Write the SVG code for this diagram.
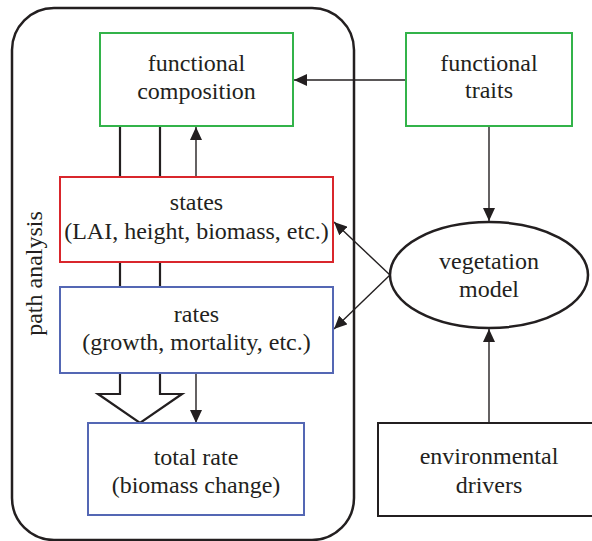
<svg xmlns="http://www.w3.org/2000/svg" width="592" height="541" viewBox="0 0 592 541">
<defs>
<style>
text{font-size:24px;fill:#231f20;text-anchor:middle}
.box{fill:#fff;stroke-width:2}
.g{stroke:#33b34a}
.r{stroke:#d9262c}
.b{stroke:#5467b4}
.k{stroke:#231f20}
.thin{stroke:#231f20;stroke-width:1.4;fill:none}
.thick{stroke:#231f20;stroke-width:2.2;fill:none}
</style>
<marker id="ah" markerUnits="userSpaceOnUse" markerWidth="14" markerHeight="12" refX="13" refY="6" orient="auto">
<path d="M0,0 L13,6 L0,12 Z" fill="#231f20"/>
</marker>
</defs>
<g font-family="Liberation Serif, Times New Roman, serif">
<rect id="path-analysis-frame" x="12" y="8" width="342" height="532" rx="42" ry="42" fill="none" stroke="#231f20" stroke-width="2.5"/>
<text transform="translate(42,273.5) rotate(-90)">path analysis</text>

<g id="connectors">
<line class="thick" x1="120" y1="126" x2="120" y2="177"/>
<line class="thick" x1="160" y1="126" x2="160" y2="177"/>
<line class="thin" x1="196" y1="177" x2="196" y2="127" marker-end="url(#ah)"/>
<line class="thick" x1="120" y1="262" x2="120" y2="287"/>
<line class="thick" x1="160" y1="262" x2="160" y2="287"/>
<path class="thick" d="M120,373 L120,394 L98,394 L140,423 L182,394 L160,394 L160,373" stroke-linejoin="miter"/>
<line class="thin" x1="196" y1="373" x2="196" y2="423" marker-end="url(#ah)"/>
<line class="thin" x1="406" y1="80" x2="294" y2="80" marker-end="url(#ah)"/>
<line class="thin" x1="489" y1="126" x2="489" y2="221" marker-end="url(#ah)"/>
<line class="thin" x1="489" y1="423" x2="489" y2="329" marker-end="url(#ah)"/>
<line class="thin" x1="390" y1="275" x2="334" y2="222" marker-end="url(#ah)"/>
<line class="thin" x1="390" y1="275" x2="334" y2="329" marker-end="url(#ah)"/>
</g>

<g id="functional-composition">
<rect class="box g" x="100" y="33" width="193" height="93"/>
<text x="196.5" y="71">functional</text>
<text x="196.5" y="99">composition</text>
</g>
<g id="states">
<rect class="box r" x="60" y="177" width="273" height="85"/>
<text x="196.5" y="210">states</text>
<text x="196.5" y="239">(LAI, height, biomass, etc.)</text>
</g>
<g id="rates">
<rect class="box b" x="60" y="287" width="273" height="86"/>
<text x="196.5" y="322">rates</text>
<text x="196.5" y="350">(growth, mortality, etc.)</text>
</g>
<g id="total-rate">
<rect class="box b" x="88" y="423" width="216" height="92"/>
<text x="196" y="465">total rate</text>
<text x="196" y="493">(biomass change)</text>
</g>
<g id="functional-traits">
<rect class="box g" x="406" y="33" width="166" height="93"/>
<text x="489" y="71">functional</text>
<text x="489" y="98">traits</text>
</g>
<g id="vegetation-model">
<ellipse cx="489" cy="275" rx="99" ry="53" fill="#fff" stroke="#231f20" stroke-width="2.5"/>
<text x="489" y="269">vegetation</text>
<text x="489" y="297">model</text>
</g>
<g id="environmental-drivers">
<rect class="box k" x="378" y="423" width="224" height="93" stroke-width="2.5"/>
<text x="489" y="464">environmental</text>
<text x="489" y="493">drivers</text>
</g>
</g>
</svg>
